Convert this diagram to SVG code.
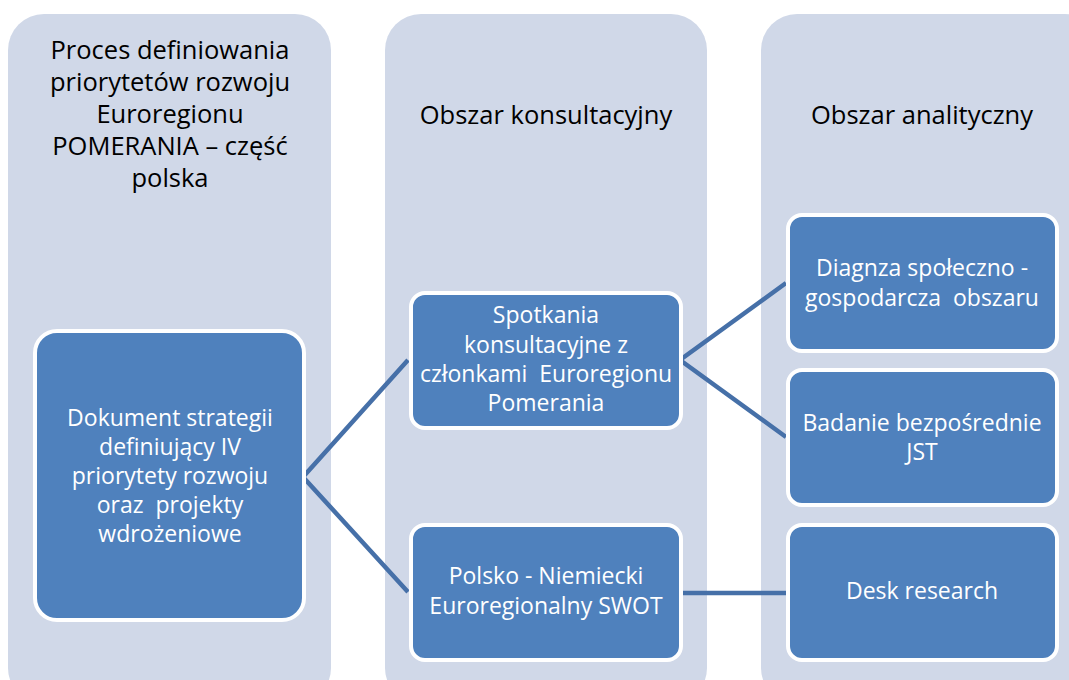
<svg xmlns="http://www.w3.org/2000/svg" width="1069" height="680" viewBox="0 0 1069 680">
<style>
.col{fill:#D0D8E8}
.node{fill:#4F81BD;stroke:#FFFFFF;stroke-width:4}
.title{font-family:"Open Sans","Liberation Sans",sans-serif;font-size:25.5px;fill:#000000;text-anchor:middle}
.lbl{font-family:"Open Sans","Liberation Sans",sans-serif;font-size:23px;fill:#FFFFFF;text-anchor:middle}
.conn{fill:none;stroke:#4670A8;stroke-width:4.5;stroke-linejoin:miter}
</style>
<rect width="1069" height="680" fill="#FFFFFF"/>
<g id="col-process">
<rect class="col" x="8" y="14" width="323" height="690" rx="36"/>
<text class="title" x="170" y="59">Proces definiowania</text>
<text class="title" x="170" y="91">priorytetów rozwoju</text>
<text class="title" x="170" y="123">Euroregionu</text>
<text class="title" x="170" y="155">POMERANIA – część</text>
<text class="title" x="170" y="187">polska</text>
</g>
<g id="col-konsult">
<rect class="col" x="385" y="14" width="322" height="690" rx="36"/>
<text class="title" x="546" y="124">Obszar konsultacyjny</text>
</g>
<g id="col-analit">
<rect class="col" x="761" y="14" width="340" height="690" rx="36"/>
<text class="title" x="922" y="124">Obszar analityczny</text>
</g>
<g id="connectors">
<polyline class="conn" points="408,360 303,477 408,592"/>
<polyline class="conn" points="786,283 680,360 786,437"/>
<line class="conn" x1="681" y1="593" x2="786" y2="593"/>
</g>
<g id="node-dokument">
<rect class="node" x="35" y="331" width="269" height="289" rx="22"/>
<text class="lbl" x="170" y="426">Dokument strategii</text>
<text class="lbl" x="170" y="455">definiujący IV</text>
<text class="lbl" x="170" y="484">priorytety rozwoju</text>
<text class="lbl" x="170" y="513" xml:space="preserve">oraz  projekty</text>
<text class="lbl" x="170" y="542">wdrożeniowe</text>
</g>
<g id="node-spotkania">
<rect class="node" x="411" y="293" width="270" height="135" rx="14"/>
<text class="lbl" x="546" y="323">Spotkania</text>
<text class="lbl" x="546" y="353">konsultacyjne z</text>
<text class="lbl" x="546" y="382" xml:space="preserve">członkami  Euroregionu</text>
<text class="lbl" x="546" y="411">Pomerania</text>
</g>
<g id="node-polsko">
<rect class="node" x="411" y="525" width="270" height="135" rx="14"/>
<text class="lbl" x="546" y="584">Polsko - Niemiecki</text>
<text class="lbl" x="546" y="614">Euroregionalny SWOT</text>
</g>
<g id="node-diagnza">
<rect class="node" x="788" y="215" width="269" height="136" rx="14"/>
<text class="lbl" x="922" y="276">Diagnza społeczno -</text>
<text class="lbl" x="922" y="306" xml:space="preserve">gospodarcza  obszaru</text>
</g>
<g id="node-badanie">
<rect class="node" x="788" y="370" width="269" height="135" rx="14"/>
<text class="lbl" x="922" y="431">Badanie bezpośrednie</text>
<text class="lbl" x="922" y="460">JST</text>
</g>
<g id="node-desk">
<rect class="node" x="788" y="525" width="269" height="135" rx="14"/>
<text class="lbl" x="922" y="599">Desk research</text>
</g>
</svg>
